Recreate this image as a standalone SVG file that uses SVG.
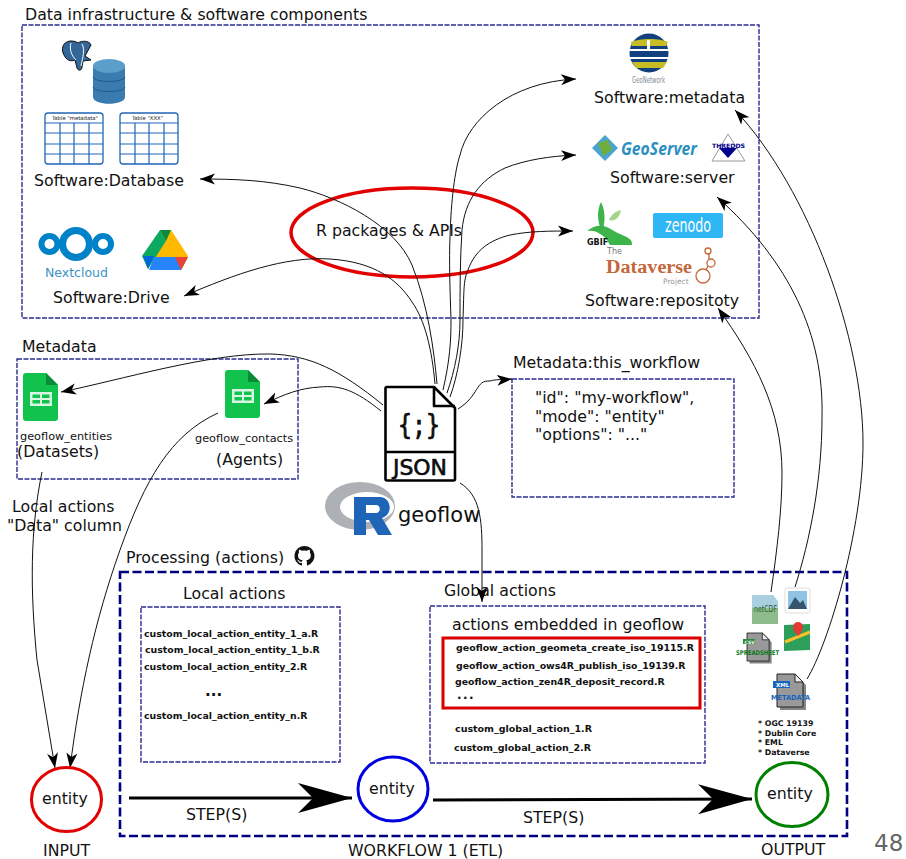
<svg xmlns="http://www.w3.org/2000/svg" width="906" height="859" viewBox="0 0 906 859">
<style>
text{font-family:"DejaVu Sans",sans-serif;fill:#111}
.t{font-size:15.75px}
.b{font-size:9.4px;font-weight:bold}
.bx{fill:none;stroke:#2b2b90;stroke-width:1.4;stroke-dasharray:5 1.5}
.pb{fill:none;stroke:#000080;stroke-width:2.6;stroke-dasharray:9 3.5}
.c{fill:none;stroke:#111;stroke-width:1;marker-end:url(#a)}
.tb{fill:#fff;stroke:#1f66b5;stroke-width:1.3}
.ln{fill:none;stroke:#1f66b5;stroke-width:1.2}
.s{fill:none;stroke:#000;stroke-width:3;marker-end:url(#big)}
.ic{fill:none;stroke:#000;stroke-width:2.6;stroke-linejoin:round}
</style>
<defs>
<marker id="a" markerWidth="16" markerHeight="12" refX="15" refY="6" orient="auto" markerUnits="userSpaceOnUse"><path d="M0 .5 15 6 0 11.5 4 6z" fill="#000"/></marker>
<marker id="big" markerWidth="56" markerHeight="34" refX="54" refY="17" orient="auto" markerUnits="userSpaceOnUse"><path d="M0 2 54 17 0 32 15 17z" fill="#000"/></marker>
<g id="sheet"><path d="M3 0H23L35 12V45a3 3 0 0 1-3 3H3a3 3 0 0 1-3-3V3a3 3 0 0 1 3-3z" fill="#11c24d"/><path d="M23 0 35 12H23z" fill="#0b8b38"/><path d="M7 19H29V33H7zM9.500 21.500V25H17V21.500zM19 21.500V25H26.500V21.500zM9.500 27V30.500H17V27zM19 27V30.500H26.500V27z" fill="#d8f5e2" fill-rule="evenodd"/></g>
<g id="doc"><path d="M3 3H21L29 11V36H3z" fill="#222" opacity=".55"/><path d="M0 0H18L26 8V33H0z" fill="#999" stroke="#222"/><path d="M18 0V8H26z" fill="#eee" stroke="#222"/></g>
</defs>
<rect width="906" height="859" fill="#fff"/>

<g id="infrastructure">
<rect class="bx" x="22" y="25" width="737" height="293"/>
<text class="t" x="25" y="20">Data infrastructure &amp; software components</text>
</g>
<g id="software-database">
<path d="M70 41C62 42 61 50 64 55 66 60 71 62 75 60L77 68C78 71 82 71 82 67L83 61 91 60 85 56 91 45C90 41 82 40 78 43 75 41 73 41 70 41z" fill="#33679a" stroke="#111"/>
<path d="M71 43C69 50 72 56 76 60M82 44C85 49 83 57 81 66" fill="none" stroke="#fff"/>
<path d="M93 66V97C93 106 125 106 125 97V66z" fill="#3a7cb0"/><ellipse cx="109" cy="66" rx="16" ry="7" fill="#5b9ec9"/>
<path d="M93 77C95 83 123 83 125 77M93 87C95 93 123 93 125 87" fill="none" stroke="#1f5a87"/>
<rect class="tb" x="45" y="113" width="58" height="51" rx="3"/>
<path class="ln" d="M45 123H103M45 133H103M45 144H103M45 154H103M60 123V164M74 123V164M89 123V164"/>
<text x="52" y="120" font-size="5.300" fill="#444">Table "metadata"</text>
<rect class="tb" x="120" y="113" width="58" height="51" rx="3"/>
<path class="ln" d="M120 123H178M120 133H178M120 144H178M120 154H178M135 123V164M149 123V164M164 123V164"/>
<text x="132" y="120" font-size="5.300" fill="#444">Table "XXX"</text>
<text class="t" x="34" y="186">Software:Database</text>
</g>
<g id="software-drive">
<g fill="none" stroke="#0082c9"><circle cx="76" cy="244" r="13.500" stroke-width="7"/><circle cx="49.500" cy="244" r="8" stroke-width="6"/><circle cx="103" cy="244" r="8" stroke-width="6"/></g>
<text x="45" y="277" font-size="12.500" style="fill:#3c93c4">Nextcloud</text>
<path d="M160 230H171L188 256 182 269H152z" fill="#ffba00"/><path d="M160 230 142 256 148 269 166 241z" fill="#0da960"/><path d="M160 230H171L166 241z" fill="#0a8a3a"/>
<path d="M154 257H188L181 270H149z" fill="#2684fc"/><path d="M143 256H154L148 269z" fill="#0066da"/><path d="M175 257H188L181 270z" fill="#ea4335"/>
<text class="t" x="53" y="303">Software:Drive</text>
</g>
<g id="software-metadata">
<circle cx="649" cy="53" r="19.500" fill="#12407e"/>
<path d="M631 42C640 38 660 38 668 42L666 46H632zM632 62H667L663 68H636z" fill="#c6bd24"/>
<path d="M628 50H669M629 58H670" stroke="#fff" stroke-width="2"/><path d="M647 40H650V50H647z" fill="#fff"/>
<text x="632" y="83" font-size="8" textLength="33" lengthAdjust="spacingAndGlyphs" style="fill:#7d8b98">GeoNetwork</text>
<text class="t" x="594" y="103">Software:metadata</text>
</g>
<g id="software-server">
<path d="M605 135 618 148 605 161 592 148z" fill="#4aa3d0"/><path d="M598 143 608 140 612 150 603 156z" fill="#6fae3c"/>
<text x="621" y="155" font-size="17.500" font-weight="bold" font-style="italic" textLength="76" lengthAdjust="spacingAndGlyphs" style="fill:#2b8fc0;font-family:'Open Sans',sans-serif">GeoServer</text>
<path d="M728 134 745 161H712z" fill="#fff" stroke="#999"/><path d="M719 148H737L728 158z" fill="#00008b"/>
<text x="712" y="148" font-size="6" font-weight="bold" textLength="33" lengthAdjust="spacingAndGlyphs" style="fill:#00008b">THREDDS</text>
<text class="t" x="610" y="183">Software:server</text>
</g>
<g id="software-repository">
<path d="M601 202C596 212 598 224 602 232C605 224 606 212 601 202z" fill="#3db44a"/>
<path d="M587 231C596 224 604 224 614 231 624 237 633 237 632 245H610C606 236 596 229 587 231z" fill="#3db44a"/>
<path d="M609 220C612 213 617 211 621 210 620 216 616 222 609 220z" fill="#a4d48a"/>
<text x="587" y="245" font-size="8" font-weight="bold">GBIF</text>
<rect x="653" y="213" width="70" height="25" rx="2" fill="#2fb7f5"/>
<text x="665" y="232" font-size="19" textLength="46" lengthAdjust="spacingAndGlyphs" style="fill:#fff">zenodo</text>
<text x="607" y="253.500" font-size="8" style="fill:#777">The</text>
<text x="606" y="272.500" font-size="18" font-weight="bold" textLength="86" lengthAdjust="spacingAndGlyphs" style="fill:#c4673a;font-family:'Liberation Serif',serif">Dataverse</text>
<text x="663" y="283.500" font-size="7.500" style="fill:#999">Project</text>
<g fill="none" stroke="#c4673a" stroke-width="1.300"><circle cx="708" cy="251" r="3"/><circle cx="711" cy="263" r="4"/><circle cx="703" cy="276" r="7"/><path d="M709 254V259M708 266 706 270"/></g>
<text class="t" x="585" y="306">Software:repositoty</text>
</g>

<g id="packages"><ellipse cx="412" cy="232.500" rx="121" ry="44.500" fill="none" stroke="#e30000" stroke-width="3.500"/>
<text class="t" x="316" y="236">R packages &amp; APIs</text></g>

<g id="metadata-group">
<rect class="bx" x="17" y="359" width="281" height="120"/>
<text class="t" x="22" y="352">Metadata</text>
</g>
<g id="geoflow-entities"><use href="#sheet" x="23" y="373"/>
<text x="20" y="440" font-size="11.300">geoflow_entities</text><text class="t" x="17" y="457">(Datasets)</text></g>
<g id="geoflow-contacts"><use href="#sheet" x="225" y="370"/>
<text x="195" y="442" font-size="11.300">geoflow_contacts</text><text class="t" x="216" y="465">(Agents)</text></g>
<g id="local-note"><text class="t" x="12" y="511.500">Local actions</text><text class="t" x="7" y="530.500">"Data" column</text></g>

<g id="json">
<path class="ic" d="M387 387H434L455 408V479a1.500 1.500 0 0 1-1.500 1.500H387a1.500 1.500 0 0 1-1.500-1.500V388.500a1.500 1.500 0 0 1 1.500-1.500z"/>
<path class="ic" d="M434 387V406H455M385.500 452H455"/>
<text x="398" y="435" font-size="28" textLength="42" lengthAdjust="spacingAndGlyphs" style="font-family:'DejaVu Sans Mono',monospace;stroke:#000;stroke-width:.7">{;}</text>
<text x="393" y="475" font-size="22" textLength="54" lengthAdjust="spacingAndGlyphs" style="stroke:#000;stroke-width:.6">JSON</text>
</g>
<g id="geoflow-logo">
<path d="M325 506a35 24 0 1 0 70 0a35 24 0 1 0-70 0zM340 507a27 15 0 1 0 54 0a27 15 0 1 0-54 0z" fill="#adb0b5" fill-rule="evenodd"/>
<path d="M354 497H380C391 497 394 514 382 518L392 535H378L369 520H366V535H354z" fill="#1f65b7"/><path d="M366 505V513H376C381 513 381 505 376 505z" fill="#fff"/>
<text x="398" y="522" font-size="21">geoflow</text>
</g>
<g id="this-workflow">
<rect class="bx" x="512" y="379" width="222" height="118"/>
<text class="t" x="513" y="368">Metadata:this_workflow</text>
<text class="t" x="535" y="403">"id": "my-workflow",</text>
<text class="t" x="535" y="421.500">"mode": "entity"</text>
<text class="t" x="535" y="440">"options": "..."</text>
</g>

<g id="processing">
<rect class="pb" x="120" y="572" width="727" height="264"/>
<text class="t" x="126" y="563">Processing (actions)</text>
<path d="M304.500 546a10 10 0 0 0-3.200 19.500c.5.100.7-.2.700-.5v-2c-2.800.6-3.400-1.200-3.400-1.200-.5-1.200-1.100-1.500-1.100-1.500-.9-.6.100-.6.100-.6 1 .1 1.500 1 1.500 1 .9 1.500 2.300 1.100 2.900.8.100-.6.300-1.100.6-1.300-2.200-.3-4.600-1.100-4.600-5 0-1.100.4-2 1-2.700-.1-.3-.4-1.300.1-2.700 0 0 .8-.3 2.800 1a9.500 9.500 0 0 1 5 0c1.900-1.300 2.800-1 2.800-1 .5 1.400.2 2.400.1 2.700.6.700 1 1.600 1 2.700 0 3.900-2.400 4.700-4.600 5 .4.300.7.900.7 1.900v2.800c0 .3.200.6.700.5a10 10 0 0 0-3.100-19.500z" fill="#111"/>
</g>
<g id="local-actions">
<rect class="bx" x="141" y="607" width="199" height="155"/>
<text class="t" x="183" y="599">Local actions</text>
<text class="b" x="144" y="637">custom_local_action_entity_1_a.R</text>
<text class="b" x="145" y="653">custom_local_action_entity_1_b.R</text>
<text class="b" x="144" y="670">custom_local_action_entity_2.R</text>
<text x="205" y="696" font-size="15" font-weight="bold">...</text>
<text class="b" x="144" y="719">custom_local_action_entity_n.R</text>
</g>
<g id="global-actions">
<rect class="bx" x="430" y="606" width="275" height="157"/>
<text class="t" x="444" y="596">Global actions</text>
<text class="t" x="452" y="630">actions embedded in geoflow</text>
<rect x="443" y="638" width="257" height="70" fill="none" stroke="#d80000" stroke-width="3"/>
<text class="b" x="456" y="651" textLength="238" lengthAdjust="spacingAndGlyphs">geoflow_action_geometa_create_iso_19115.R</text>
<text class="b" x="456" y="669">geoflow_action_ows4R_publish_iso_19139.R</text>
<text class="b" x="455" y="685">geoflow_action_zen4R_deposit_record.R</text>
<text x="457" y="699" font-size="12" font-weight="bold" letter-spacing="1.500">...</text>
<text class="b" x="455" y="732" textLength="137" lengthAdjust="spacingAndGlyphs">custom_global_action_1.R</text>
<text class="b" x="454" y="751" textLength="137" lengthAdjust="spacingAndGlyphs">custom_global_action_2.R</text>
</g>
<g id="outputs">
<path d="M752 595H773L778 602V624H752z" fill="#8dbb8a"/><path d="M752 595H773L778 602V608H752z" fill="#a9cfe0"/>
<text x="754" y="612" font-size="8" textLength="23" lengthAdjust="spacingAndGlyphs" style="fill:#1f5f2a">netCDF</text>
<rect x="785" y="588" width="25" height="25" rx="2" fill="#fff" stroke="#ddd"/><rect x="788" y="591" width="19" height="18" fill="#8fc4e4"/><path d="M788 609 795 597 800 603 803 600 807 609z" fill="#37546e"/>
<path d="M784 625 810 624V650L784 651z" fill="#2e9e5b"/><path d="M785 642 800 636 810 632" stroke="#fbc02d" stroke-width="3" fill="none"/><path d="M798 622a5 5 0 0 1 5 5c0 4-5 9-5 9s-5-5-5-9a5 5 0 0 1 5-5z" fill="#e53935"/>
<use href="#doc" transform="translate(747 633) scale(.85)"/>
<rect x="743" y="639" width="12" height="5" fill="#2e8b3a"/><text x="744.500" y="643.500" font-size="4.500" font-weight="bold" style="fill:#fff">CSV</text>
<text x="736" y="655" font-size="6.500" font-weight="bold" textLength="43" lengthAdjust="spacingAndGlyphs" style="fill:#0b7d1e">SPREADSHEET</text>
<use href="#doc" x="777" y="674"/>
<rect x="773" y="681" width="17" height="7" fill="#1565c0"/><text x="776" y="687" font-size="5.500" font-weight="bold" style="fill:#fff">XML</text>
<text x="771" y="700" font-size="7" font-weight="bold" textLength="39" lengthAdjust="spacingAndGlyphs" style="fill:#1565c0">METADATA</text>
<g font-size="7.800" font-weight="bold"><text x="758" y="726">* OGC 19139</text><text x="758" y="735.500">* Dublin Core</text><text x="758" y="745">* EML</text><text x="758" y="754.500">* Dataverse</text></g>
</g>

<g id="connectors">
<path class="c" d="M437 384C434 350 428 305 412 265 395 225 340 198 300 188 265 180 235 179 200 179"/>
<path class="c" d="M435 384C432 350 425 320 412 302 398 280 375 262 330 259 285 256 235 274 184 296"/>
<path class="c" d="M443 390C450 360 451 340 451 320 450 290 449 260 450 237 451 200 455 170 460 155 468 120 510 82 576 79"/>
<path class="c" d="M447 393C455 370 460 345 460 320 460 290 460 260 462 230 465 200 480 180 505 168 525 160 550 156 576 155"/>
<path class="c" d="M450 397C458 375 463 345 463 320 464 295 463 280 468 270 475 250 490 240 510 235 530 231 550 231 573 231"/>
<path class="c" d="M383 405C340 370 310 355 270 354 210 353 120 380 61 392"/>
<path class="c" d="M381 411C355 390 340 385 320 387 300 388 285 394 264 404"/>
<path class="c" d="M458 409C480 395 475 380 490 381 497 379 500 380 512 379"/>
<path class="c" d="M460 483C480 495 482 520 482 550L482 602"/>
<path class="c" d="M42 472C30 530 30 590 37 660L55 768"/>
<path class="c" d="M218 413C170 435 145 480 120 550 95 620 80 690 70 768"/>
<path class="c" d="M771 592C777 550 782 510 782 473 782 410 755 360 718 308"/>
<path class="c" d="M795 587C810 540 822 480 822 417 824 335 790 262 717 197"/>
<path class="c" d="M807 679C828 645 863 530 863 443 863 340 810 190 735 110"/>
<path class="s" d="M129 798H352"/>
<path class="s" d="M433 800 752 799"/>
</g>

<g id="input"><ellipse cx="66.500" cy="799.500" rx="35" ry="32" fill="none" stroke="#e30000" stroke-width="3"/>
<text class="t" x="42" y="804">entity</text><text class="t" x="43" y="856">INPUT</text></g>
<g id="step-a"><text class="t" x="186" y="820">STEP(S)</text></g>
<g id="intermediate"><ellipse cx="393" cy="789" rx="35" ry="32" fill="none" stroke="#0000e0" stroke-width="3"/>
<text class="t" x="369" y="794">entity</text></g>
<g id="step-b"><text class="t" x="523" y="823">STEP(S)</text></g>
<g id="output"><ellipse cx="792" cy="794.500" rx="36" ry="32" fill="none" stroke="#008000" stroke-width="3"/>
<text class="t" x="767" y="799">entity</text><text class="t" x="761" y="855">OUTPUT</text></g>
<g id="workflow-label"><text class="t" x="348" y="856">WORKFLOW 1 (ETL)</text></g>
<g id="page-number"><text x="874" y="851" font-size="23" style="fill:#666">48</text></g>
</svg>
